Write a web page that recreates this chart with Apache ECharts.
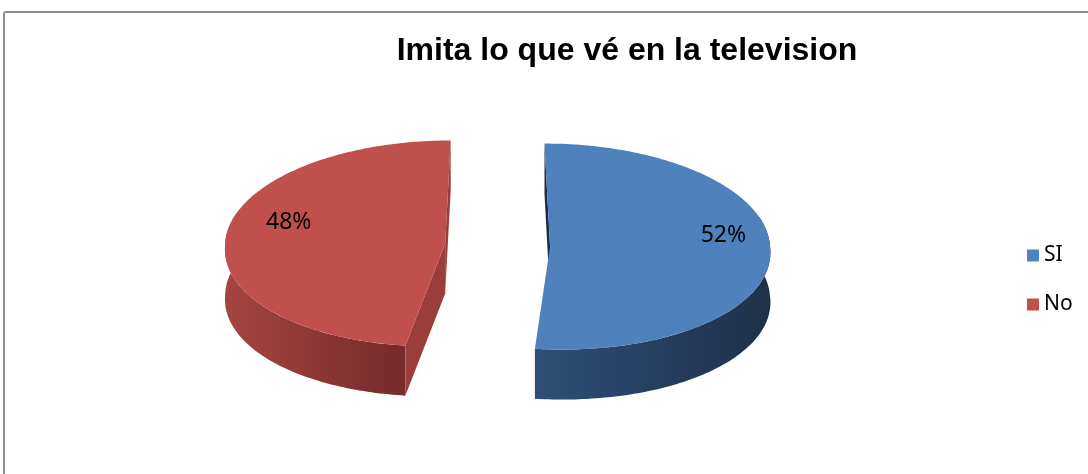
<!DOCTYPE html>
<html>
<head>
<meta charset="utf-8">
<script src="https://cdn.jsdelivr.net/npm/echarts@6/dist/echarts.min.js"></script>
<style>
html,body{margin:0;padding:0;background:#fff;}
#chart{width:1088px;height:474px;}
</style>
</head>
<body>
<div id="chart"></div>
<script>
// ---- data ----
const titleText = 'Imita lo que vé en la television';
const categories = ['SI', 'No'];
const values = [52, 48];
const labels = ['52%', '48%'];

// ---- styles ----
const topColors = ['#4f81bd', '#c0504d'];
const wallColors = [['#2e4f78', '#1e3149'], ['#a54542', '#762a29']];
const cutColors = ['#1c2e47', '#9a3d3b'];

// ---- geometry (layout) ----
const G = { cx: 497.5, cy: 245, rx: 220, ry: 103, depth: 50, explode: 52.5,
            perspBack: 0.105, perspFront: 0.238,
            labelR: 0.75, labelDx: 8, labelDy: -16 };

const total = values.reduce((a, b) => a + b, 0);

function makeRender(i) {
  return function (params, api) {
    let start = 0;
    for (let k = 0; k < i; k++) start += values[k] / total * Math.PI * 2;
    const end = start + api.value(0) / total * Math.PI * 2;
    const mid = (start + end) / 2;
    const Xc = G.explode * Math.sin(mid), Zc = G.explode * Math.cos(mid);
    // pseudo-perspective: the slice offset converges toward the back
    const P = (t, r, dz) => {
      const dx = G.rx * r * Math.sin(t), Z = Zc + G.rx * r * Math.cos(t);
      const k = Z > 0 ? G.perspBack : G.perspFront;
      const s = 1 - k * Z / G.rx;
      return [G.cx + Xc * s + dx, G.cy - Z * G.ry / G.rx + (dz || 0)];
    };
    const arc = (a, b, dz) => {
      const pts = [];
      const n = Math.max(2, Math.ceil(Math.abs(b - a) / 0.02));
      for (let k = 0; k <= n; k++) pts.push(P(a + (b - a) * k / n, 1, dz));
      return pts;
    };
    const area = (pts) => {
      let s = 0;
      for (let k = 0; k < pts.length; k++) {
        const p = pts[k], q = pts[(k + 1) % pts.length];
        s += p[0] * q[1] - q[0] * p[1];
      }
      return s;
    };
    const children = [];

    // outer wall (front part; top face is drawn over anything hidden)
    const wa = Math.max(start, Math.PI / 2 - 0.3), wb = Math.min(end, Math.PI * 1.5 + 0.3);
    if (wb > wa) {
      children.push({
        type: 'polygon',
        shape: { points: arc(wa, wb, 0).concat(arc(wa, wb, G.depth).reverse()) },
        style: {
          fill: new echarts.graphic.LinearGradient(0, 0, 1, 0, [
            { offset: 0, color: wallColors[i][0] },
            { offset: 1, color: wallColors[i][1] }
          ])
        }
      });
    }
    // cut faces (drawn only when facing the viewer)
    const c0 = P(0, 0, 0), c1 = P(0, 0, G.depth);
    const fs = [c0, P(start, 1, 0), P(start, 1, G.depth), c1];
    if (area(fs) < 0) children.push({ type: 'polygon', shape: { points: fs }, style: { fill: cutColors[i] } });
    const fe = [c0, P(end, 1, 0), P(end, 1, G.depth), c1];
    if (area(fe) > 0) children.push({ type: 'polygon', shape: { points: fe }, style: { fill: cutColors[i] } });
    // top face
    children.push({
      type: 'polygon',
      shape: { points: [c0].concat(arc(start, end, 0)) },
      style: { fill: topColors[i] }
    });
    // label
    const lp = P(mid, G.labelR, 0);
    children.push({
      type: 'text',
      style: {
        text: labels[i], x: lp[0] + G.labelDx, y: lp[1] + G.labelDy,
        fill: '#000', font: '23px "Noto Sans"', align: 'center', verticalAlign: 'middle'
      }
    });
    return { type: 'group', children: children };
  };
}

const chart = echarts.init(document.getElementById('chart'), null, { renderer: 'canvas' });
chart.setOption({
  backgroundColor: '#fff',
  animation: false,
  title: {
    text: titleText,
    left: 622, top: 30, textAlign: 'center',
    textStyle: { fontFamily: '"Liberation Sans Narrow", "Liberation Sans", sans-serif', fontWeight: 'bold', fontSize: 32, color: '#000' }
  },
  legend: {
    orient: 'vertical', left: 1022, top: 240,
    icon: 'rect', itemWidth: 12, itemHeight: 12, itemGap: 28,
    data: categories,
    textStyle: { fontFamily: '"Noto Sans"', fontSize: 21, color: '#000', padding: [0, 0, 0, 0] }
  },
  graphic: [{
    type: 'rect', shape: { x: 4, y: 12, width: 1120, height: 500, r: 2 },
    style: { fill: 'none', stroke: '#8c8c8c', lineWidth: 2 }, silent: true, z: -10
  }],
  series: categories.map((name, i) => ({
    type: 'custom',
    name: name,
    coordinateSystem: 'none',
    itemStyle: { color: topColors[i] },
    data: [[values[i]]],
    renderItem: makeRender(i)
  }))
});
</script>
</body>
</html>
